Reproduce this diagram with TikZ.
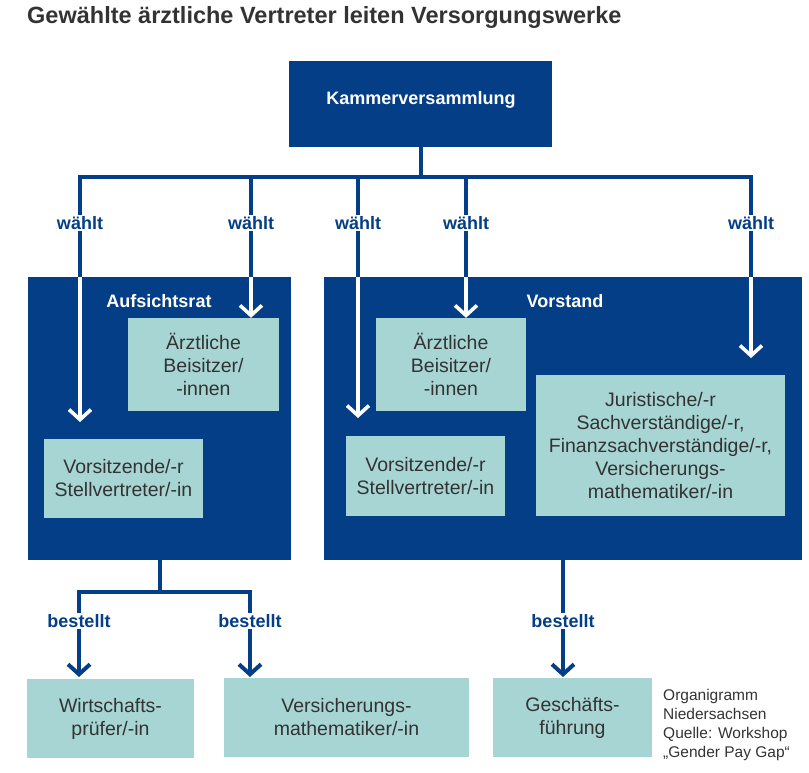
\documentclass[tikz,border=0pt]{standalone}
\usepackage{fontspec}
\setmainfont{Liberation Sans}
\usetikzlibrary{arrows.meta}
\definecolor{kblue}{RGB}{4,62,134}
\definecolor{kteal}{RGB}{166,213,212}
\definecolor{kgray}{RGB}{51,51,51}

\tikzset{
  darkbox/.style={fill=kblue, inner sep=0pt},
  lightbox/.style={fill=kteal, text=kgray, inner sep=0pt, align=center,
    font=\fontsize{19.5}{23}\selectfont},
  headtxt/.style={text=white, font=\bfseries\fontsize{18}{21}\selectfont, inner sep=0pt},
  lbl/.style={fill=white, text=kblue, font=\bfseries\fontsize{18}{21}\selectfont, inner sep=1.5pt},
  bline/.style={draw=kblue, line width=4pt},
  wline/.style={draw=white, line width=3.6pt},
  chev/.tip={Straight Barb[length=10pt,width=22pt]},
}

\begin{document}
\begin{tikzpicture}[x=1pt,y=-1pt]
\useasboundingbox (0,0) rectangle (809,773);
% title
\node[anchor=base west, inner sep=0pt, text=kgray, font=\bfseries\fontsize{23.5}{27}\selectfont] (title) at (27,24) {Gewählte ärztliche Vertreter leiten Versorgungswerke};

% boxes
\node[darkbox, minimum width=263pt, minimum height=86pt] (kammer) at (420.5,104) {};
\node[headtxt] (kammername) at (421,100) {Kammerversammlung};
\node[darkbox, minimum width=263pt, minimum height=283pt] (auf) at (159.5,418.5) {};
\node[darkbox, minimum width=478pt, minimum height=283pt] (vor) at (563,418.5) {};
\node[headtxt] (aufname) at (159,301) {Aufsichtsrat};
\node[headtxt] (vorname) at (565,301) {Vorstand};

\node[lightbox, minimum width=151pt, minimum height=93pt] (aBeis) at (203.5,364.5) {Ärztliche\\Beisitzer/\\-innen};
\node[lightbox, minimum width=159pt, minimum height=79pt] (aVors) at (123.5,478.5) {Vorsitzende/-r\\Stellvertreter/-in};
\node[lightbox, minimum width=150pt, minimum height=93pt] (vBeis) at (451,364.5) {Ärztliche\\Beisitzer/\\-innen};
\node[lightbox, minimum width=159pt, minimum height=80pt] (vVors) at (425.5,476) {Vorsitzende/-r\\Stellvertreter/-in};
\node[lightbox, minimum width=249pt, minimum height=141pt] (jur) at (660.5,445.5) {Juristische/-r\\Sachverständige/-r,\\Finanzsachverständige/-r,\\Versicherungs-\\mathematiker/-in};

\node[lightbox, minimum width=167pt, minimum height=79pt] (wirt) at (110.5,718.5) {Wirtschafts-\\prüfer/-in};
\node[lightbox, minimum width=245pt, minimum height=79pt] (versm) at (346.5,717.5) {Versicherungs-\\mathematiker/-in};
\node[lightbox, minimum width=159pt, minimum height=79pt] (gesch) at (572.5,717.5) {Geschäfts-\\führung};

\node[anchor=north west, inner sep=0pt, align=left, text=kgray, font=\fontsize{15.5}{19}\selectfont] (quelle) at (663,689) {Organigramm\\Niedersachsen\\Quelle: Workshop\\„Gender Pay Gap“};

% waehlt
\coordinate (w1) at (80,177);
\coordinate (w2) at (251,177);
\coordinate (w3) at (358,177);
\coordinate (w4) at (466,177);
\coordinate (w5) at (751,177);
\draw[bline] (kammer.south) -- (kammer.south |- w1);
\draw[bline] (auf.north -| w1) -- (w1) -- (w5) -- (vor.north -| w5);
\draw[bline] (w2) -- (auf.north -| w2);
\draw[bline] (w3) -- (vor.north -| w3);
\draw[bline] (w4) -- (vor.north -| w4);

\coordinate (t1) at (80,422);
\coordinate (t3) at (358,418);
\coordinate (t5) at (751,358);
\draw[wline, -chev] (auf.north -| w1) -- (t1);
\draw[wline, -chev] (auf.north -| w2) -- (aBeis.north -| w2);
\draw[wline, -chev] (vor.north -| w3) -- (t3);
\draw[wline, -chev] (vor.north -| w4) -- (vBeis.north -| w4);
\draw[wline, -chev] (vor.north -| w5) -- (t5);

\node[lbl] (l1) at (80,223) {wählt};
\node[lbl] (l2) at (251,223) {wählt};
\node[lbl] (l3) at (358,223) {wählt};
\node[lbl] (l4) at (466,223) {wählt};
\node[lbl] (l5) at (751,223) {wählt};

% bestellt
\coordinate (b1) at (79,592);
\coordinate (b2) at (250,592);
\coordinate (s1) at (79,677);
\coordinate (s2) at (250,677);
\draw[bline] (auf.south) -- (auf.south |- b1);
\draw[bline, chev-chev] (s1) -- (b1) -- (b2) -- (s2);
\draw[bline, -chev] (vor.south) -- (vor.south |- 0,677);

\node[lbl] (m1) at (79,621) {bestellt};
\node[lbl] (m2) at (250,621) {bestellt};
\node[lbl] (m3) at (563,621) {bestellt};
\end{tikzpicture}
\end{document}
